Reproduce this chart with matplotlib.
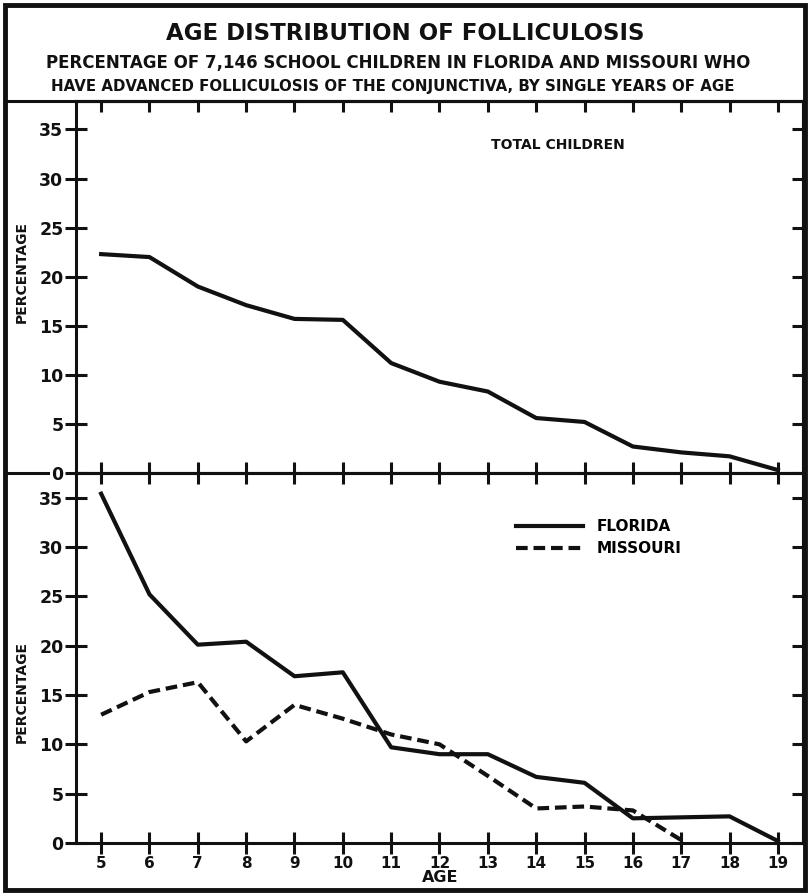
import matplotlib
matplotlib.use("Agg")
import matplotlib.pyplot as plt
from matplotlib.lines import Line2D
from matplotlib.patches import Rectangle

# values (percent with advanced folliculosis)
ages = [5, 6, 7, 8, 9, 10, 11, 12, 13, 14, 15, 16, 17, 18, 19]
total_pct = [22.3, 22.0, 19.0, 17.1, 15.7, 15.6, 11.2, 9.3, 8.3, 5.6, 5.2, 2.7, 2.1, 1.7, 0.3]
florida_pct = [35.4, 25.2, 20.1, 20.4, 16.9, 17.3, 9.7, 9.0, 9.0, 6.7, 6.1, 2.5, 2.6, 2.7, 0.2]
missouri_ages = [5, 6, 7, 8, 9, 10, 11, 12, 13, 14, 15, 16, 17]
missouri_pct = [13.0, 15.3, 16.3, 10.3, 14.0, 12.6, 11.0, 10.0, 6.8, 3.5, 3.7, 3.3, 0.3]
y_ticks = [0, 5, 10, 15, 20, 25, 30, 35]

title = "AGE DISTRIBUTION OF FOLLICULOSIS"
sub1 = "PERCENTAGE OF 7,146 SCHOOL CHILDREN IN FLORIDA AND MISSOURI WHO"
sub2 = "HAVE ADVANCED FOLLICULOSIS OF THE CONJUNCTIVA, BY SINGLE YEARS OF AGE"

W, H = 810, 894
INK = "#111111"
LW = 2.2
plt.rcParams['font.family'] = ['DejaVu Sans']
plt.rcParams['font.weight'] = 'bold'


def fx(px):
    return px / W


def fy(py):
    return 1 - py / H


def style_axis(ax, ymax):
    ax.set_xlim(4.48, 19.52)
    ax.set_ylim(0, ymax)
    ax.set_xticks(ages)
    ax.set_yticks(y_ticks)
    for s in ax.spines.values():
        s.set_linewidth(LW)
        s.set_color(INK)
    ax.tick_params(axis='both', direction='inout', length=16, width=LW,
                   color=INK, top=False, right=False, pad=1, labelcolor=INK)
    ax.tick_params(axis='y', labelsize=12.5)
    ax.tick_params(axis='x', labelsize=11)
    # inward ticks along top and right edges
    sec_top = ax.secondary_xaxis('top')
    sec_top.set_xticks(ages)
    sec_top.tick_params(direction='in', length=8, width=LW, color=INK, labeltop=False)
    sec_top.spines['top'].set_linewidth(LW)
    sec_right = ax.secondary_yaxis('right')
    sec_right.set_yticks(y_ticks)
    sec_right.tick_params(direction='in', length=8, width=LW, color=INK, labelright=False)
    sec_right.spines['right'].set_linewidth(LW)


fig = plt.figure(figsize=(W / 100, H / 100), dpi=100)

ax_top = fig.add_axes([fx(76), fy(473), fx(803) - fx(76), (473 - 101) / H])
ax_bot = fig.add_axes([fx(76), fy(843), fx(803) - fx(76), (843 - 473) / H])

style_axis(ax_top, 37.9)
style_axis(ax_bot, 37.5)

ax_top.plot(ages, total_pct, color=INK, lw=3, solid_joinstyle='round')
ax_top.tick_params(axis='x', labelbottom=False)
ax_top.text(0.571, 0.882, "TOTAL CHILDREN", transform=ax_top.transAxes,
            fontsize=10, fontweight='bold', color=INK, va='center', ha='left')

ax_bot.plot(ages, florida_pct, color=INK, lw=3, solid_joinstyle='round', label="FLORIDA")
ax_bot.plot(missouri_ages, missouri_pct, color=INK, lw=3, linestyle=(0, (2.8, 1.4)),
            label="MISSOURI")
ax_bot.legend(loc='upper left', bbox_to_anchor=(0.605, 0.875), frameon=False,
              handlelength=4.4, handletextpad=0.9, labelspacing=0.45, borderpad=0,
              borderaxespad=0, prop={'size': 11, 'weight': 'bold'})

# axis titles
fig.text(fx(22), fy(272), "PERCENTAGE", rotation=90, ha='center', va='center',
         fontsize=10, fontweight='bold', color=INK)
fig.text(fx(22), fy(692), "PERCENTAGE", rotation=90, ha='center', va='center',
         fontsize=10, fontweight='bold', color=INK)
fig.text(fx(440), fy(878), "AGE", ha='center', va='center', fontsize=11.5,
         fontweight='bold', color=INK)

# heading block
fig.text(fx(405), fy(33), title, ha='center', va='center', fontsize=16.5,
         fontweight='bold', color=INK)
fig.text(fx(398), fy(63), sub1, ha='center', va='center', fontsize=12,
         fontweight='bold', color=INK)
fig.text(fx(393), fy(86), sub2, ha='center', va='center', fontsize=10.8,
         fontweight='bold', color=INK)

# frame, heading rule and divider extension
fig.add_artist(Rectangle((fx(5), fy(890)), fx(800), (885) / H, transform=fig.transFigure,
                         fill=False, lw=3.5, edgecolor=INK))
fig.add_artist(Line2D([fx(5), fx(805)], [fy(101), fy(101)], transform=fig.transFigure,
                      lw=LW, color=INK))
fig.add_artist(Line2D([fx(5), fx(48)], [fy(473), fy(473)], transform=fig.transFigure,
                      lw=LW, color=INK))

fig.savefig("out.png", dpi=100)
